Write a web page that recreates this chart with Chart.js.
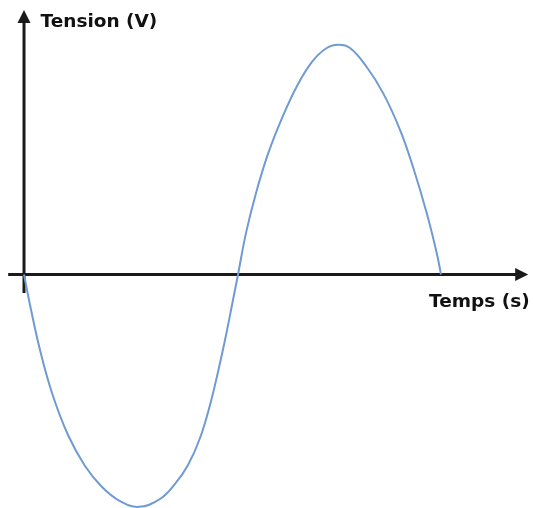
<!DOCTYPE html>
<html>
<head>
<meta charset="utf-8">
<script src="https://cdn.jsdelivr.net/npm/chart.js@4/dist/chart.umd.min.js"></script>
<style>
  html, body { margin: 0; padding: 0; background: #ffffff; }
  #wrap { width: 533px; height: 508px; position: relative; }
</style>
</head>
<body>
<div id="wrap"><canvas id="c"></canvas></div>
<script>
// Values (time in arbitrary units, tension in volts)
const temps   = [0, 0.144, 0.384, 0.671, 1.055, 1.463, 1.871, 2.302, 2.758,
                 3.261, 3.621, 3.933, 4.221, 4.460, 4.652, 4.820, 4.988, 5.132,
                 5.324, 5.564, 5.851, 6.187, 6.547, 6.906, 7.242, 7.530,
                 7.818, 8.218, 8.609, 9.017, 9.329, 9.657, 9.897, 10.0];
const tension = [0, -1.32, -3.27, -5.13, -6.95, -8.29, -9.20, -9.81, -10.06,
                 -9.72, -9.07, -8.25, -7.08, -5.65, -4.22, -2.84, -1.32, 0,
                 1.80, 3.53, 5.22, 6.77, 8.16, 9.20, 9.78, 9.94,
                 9.80, 8.98, 7.86, 6.26, 4.65, 2.66, 0.93, 0];

const axisTitles = { x: 'Temps (s)', y: 'Tension (V)' };
const xRange = [-0.576, 12.206];
const yRange = [-10.11, 11.88];
const xAxisSpan = [-0.38, 12.09];
const yAxisSpan = [-0.80, 11.45];

const axesPlugin = {
  id: 'arrowAxes',
  beforeDatasetsDraw(chart) {
    const ctx = chart.ctx;
    const xs = chart.scales.x, ys = chart.scales.y;
    const x0 = xs.getPixelForValue(0), y0 = ys.getPixelForValue(0);
    const xa = xs.getPixelForValue(xAxisSpan[0]), xb = xs.getPixelForValue(xAxisSpan[1]);
    const ya = ys.getPixelForValue(yAxisSpan[0]), yb = ys.getPixelForValue(yAxisSpan[1]);
    ctx.save();
    ctx.strokeStyle = '#1a1a1a';
    ctx.fillStyle = '#1a1a1a';
    ctx.lineWidth = 3;
    // x axis
    ctx.beginPath();
    ctx.moveTo(xa, y0);
    ctx.lineTo(xb - 10, y0);
    ctx.stroke();
    ctx.beginPath();
    ctx.moveTo(xb, y0);
    ctx.lineTo(xb - 13, y0 - 6.5);
    ctx.lineTo(xb - 13, y0 + 6.5);
    ctx.closePath();
    ctx.fill();
    // y axis
    ctx.beginPath();
    ctx.moveTo(x0, ya);
    ctx.lineTo(x0, yb + 10);
    ctx.stroke();
    ctx.beginPath();
    ctx.moveTo(x0, yb);
    ctx.lineTo(x0 - 6.5, yb + 13);
    ctx.lineTo(x0 + 6.5, yb + 13);
    ctx.closePath();
    ctx.fill();
    // titles
    ctx.font = 'bold 18.5px "DejaVu Sans", Verdana, sans-serif';
    ctx.textBaseline = 'alphabetic';
    ctx.fillStyle = '#111111';
    ctx.textAlign = 'left';
    ctx.fillText(axisTitles.y, x0 + 16.5, yb + 17);
    ctx.textAlign = 'right';
    ctx.fillText(axisTitles.x, xb + 1.5, y0 + 32.5);
    ctx.restore();
  }
};

new Chart(document.getElementById('c'), {
  type: 'line',
  data: {
    datasets: [{
      data: temps.map((t, i) => ({ x: t, y: tension[i] })),
      borderColor: '#6f9bd2',
      borderWidth: 2,
      pointRadius: 0,
      tension: 0.4,
      fill: false,
      clip: false
    }]
  },
  options: {
    responsive: true,
    maintainAspectRatio: false,
    animation: false,
    layout: { padding: 0 },
    plugins: { legend: { display: false }, tooltip: { enabled: false } },
    scales: {
      x: { type: 'linear', min: xRange[0], max: xRange[1], display: false },
      y: { type: 'linear', min: yRange[0], max: yRange[1], display: false }
    }
  },
  plugins: [axesPlugin]
});
</script>
</body>
</html>
